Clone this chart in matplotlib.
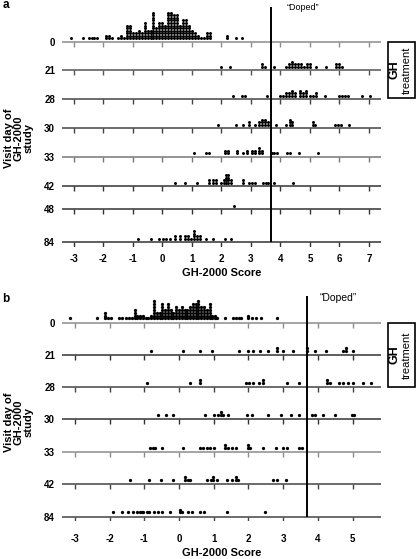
import numpy as np
import matplotlib.pyplot as plt
from matplotlib.patches import Rectangle

plt.rcParams['font.family'] = ['Liberation Sans', 'DejaVu Sans']

# ---- data (GH-2000 scores per visit day) ----
rows_a = ["0", "21", "28", "30", "33", "42", "48", "84"]
rows_b = ["0", "21", "28", "30", "33", "42", "84"]

# day 0 of study a is a dense dot histogram: bin centre + number of dots
a0_x = [-3.1, -2.7, -2.5, -2.4, -2.3, -2.2, -1.9, -1.8, -1.7, -1.5, -1.4, -1.3,
        -1.2, -1.1, -1.0, -0.9, -0.8, -0.7, -0.6, -0.5, -0.4, -0.3, -0.2, -0.1,
        0.0, 0.1, 0.2, 0.3, 0.4, 0.5, 0.6, 0.7, 0.8, 0.9, 1.0, 1.1, 1.2, 1.3,
        1.4, 1.5, 1.6, 2.2, 2.5, 2.7]
a0_n = [1, 1, 1, 1, 1, 1, 2, 2, 1, 1, 2, 1,
        6, 6, 3, 3, 4, 3, 7, 4, 4, 11, 5, 7,
        7, 6, 11, 11, 10, 10, 6, 8, 8, 6, 4, 3, 2, 1,
        1, 3, 3, 2, 1, 1]
a21 = [2.0, 2.3, 3.37, 3.37, 3.48, 3.8, 4.2, 4.3, 4.3, 4.4, 4.4, 4.4, 4.5, 4.5,
       4.6, 4.6, 4.7, 4.7, 4.8, 4.9, 4.9, 5.0, 5.0, 5.2, 5.55, 5.9, 5.9, 6.0,
       6.0, 6.1]
a28 = [2.41, 2.69, 2.8, 3.54, 4.0, 4.1, 4.2, 4.2, 4.3, 4.3, 4.4, 4.4, 4.4, 4.5,
       4.5, 4.67, 4.67, 4.67, 4.77, 4.77, 4.87, 4.87, 4.87, 5.0, 5.1, 5.2, 5.2,
       5.5, 6.0, 6.1, 6.2, 6.3, 6.76, 7.04]
a30 = [1.9, 2.5, 2.75, 2.92, 2.92, 3.14, 3.29, 3.29, 3.38, 3.38, 3.38, 3.48,
       3.48, 3.48, 3.59, 3.59, 3.85, 4.19, 4.31, 4.31, 4.31, 4.39, 4.39, 5.1,
       5.1, 5.18, 5.85, 5.95, 6.05, 6.31]
a33 = [1.08, 1.47, 1.58, 2.12, 2.12, 2.23, 2.23, 2.52, 2.52, 2.75, 2.86, 2.86,
       3.03, 3.03, 3.13, 3.13, 3.29, 3.29, 3.29, 3.37, 3.37, 3.7, 3.8, 3.9,
       4.22, 4.33, 4.64, 5.27]
a42 = [0.43, 0.77, 1.17, 1.58, 1.58, 1.72, 1.72, 1.83, 1.83, 2.0, 2.08, 2.08,
       2.15, 2.15, 2.15, 2.15, 2.23, 2.23, 2.23, 2.23, 2.32, 2.32, 2.75, 2.75,
       2.94, 3.04, 3.14, 3.4, 3.5, 3.58, 3.79, 4.42]
a48 = [2.43]
a84 = [-0.81, -0.39, -0.11, 0.01, 0.13, 0.26, 0.43, 0.43, 0.6, 0.6, 0.77, 0.77,
       0.87, 0.87, 0.98, 1.08, 1.08, 1.08, 1.08, 1.18, 1.18, 1.28, 1.28, 1.48,
       1.71, 2.12, 2.32]

# day 0 of study b
b0_x = [-3.14, -2.37, -2.13, -2.05, -1.97, -1.72, -1.64, -1.52, -1.44, -1.36,
        -1.28, -1.20, -1.12, -1.04, -0.96, -0.88, -0.80, -0.72, -0.64, -0.56,
        -0.48, -0.40, -0.32, -0.24, -0.16, -0.08, 0.0, 0.08, 0.16, 0.24, 0.32,
        0.40, 0.48, 0.56, 0.64, 0.72, 0.80, 0.88, 0.96, 1.04, 1.10, 1.33, 1.56,
        1.64, 1.72, 1.80, 1.98, 2.10, 2.22, 2.36, 2.82]
b0_n = [1, 1, 3, 1, 1, 1, 1, 1, 1, 1,
        4, 2, 2, 2, 1, 1, 2, 7, 3, 3,
        6, 4, 6, 4, 3, 5, 4, 5, 4, 4, 5,
        6, 6, 7, 5, 5, 4, 6, 2, 2, 1, 1, 1,
        1, 1, 1, 2, 1, 1, 1, 1]
b21 = [-0.82, 0.12, 0.6, 0.94, 1.74, 2.0, 2.12, 2.33, 2.57, 2.83, 2.83, 2.99,
       3.29, 3.68, 3.68, 3.92, 4.24, 4.73, 4.8, 4.8, 5.02]
b28 = [-0.93, 0.32, 0.6, 0.6, 1.93, 2.02, 2.12, 2.31, 2.43, 2.43, 3.12, 3.47,
       4.27, 4.27, 4.35, 4.62, 4.73, 4.88, 5.0, 5.31, 5.52]
b30 = [-0.61, -0.38, -0.16, 0.75, 1.01, 1.13, 1.2, 1.2, 1.28, 1.42, 1.95, 2.09,
       2.57, 2.94, 3.23, 3.47, 3.82, 3.92, 4.14, 4.5, 4.98, 5.03]
b33 = [-0.84, -0.76, -0.68, -0.5, 0.12, 0.61, 0.7, 0.8, 0.9, 1.0, 1.33, 1.33,
       1.42, 1.52, 1.64, 2.0, 2.0, 2.05, 2.43, 2.8, 3.0, 3.12, 3.47, 3.54]
b42 = [-1.41, -0.86, -0.52, -0.16, 0.17, 0.17, 0.25, 0.32, 0.8, 0.91, 0.97,
       0.97, 1.09, 1.37, 1.52, 1.65, 1.65, 1.71, 2.7, 2.83, 3.08]
b84 = [-1.91, -1.65, -1.46, -1.32, -1.22, -1.12, -1.07, -1.03, -0.93, -0.86,
       -0.72, -0.61, -0.48, -0.26, 0.03, 0.03, 0.08, 0.27, 0.37, 0.61, 0.72,
       1.37, 2.48]

doped_cut = 3.68

# ---- layout (figure pixels) ----
W, H = 416, 559
fig = plt.figure(figsize=(W / 100, H / 100), dpi=100)


def px_axes(left, top, right, bottom):
    return fig.add_axes([left / W, 1 - bottom / H, (right - left) / W, (bottom - top) / H])


def stack(vals, base, step):
    xs, ys, seen = [], [], {}
    for v in vals:
        k = seen.get(v, 0)
        seen[v] = k + 1
        xs.append(v)
        ys.append(base - k * step)
    return xs, ys


def panel(ax, data, row_y, line_cols, xlim, ticks, top, bottom, dot_s, dot_off, dot_step):
    ax.set_xlim(*xlim)
    ax.set_ylim(bottom, top)
    for vals, y, lc in zip(data, row_y, line_cols):
        ax.axhline(y, color=lc, lw=1.1, zorder=1)
        ax.vlines(ticks, y, y + 5, color=lc, lw=1.0, zorder=1)
        xs, ys = stack(vals, y - dot_off, dot_step)
        ax.scatter(xs, ys, s=dot_s, c='k', linewidths=0, zorder=3)
    for s in ax.spines.values():
        s.set_visible(False)
    ax.set_yticks(row_y)
    ax.set_xticks(ticks)
    ax.tick_params(length=0)


# panel a
ya = [41.7, 70.3, 99.3, 128, 156.7, 186, 209, 242]
ax_a = px_axes(62, 0, 381, 247)
data_a = [np.repeat(a0_x, a0_n), a21, a28, a30, a33, a42, a48, a84]
cols_a = ['#8c8c8c', '#555', '#444', '#444', '#777', '#333', '#333', '#333']
panel(ax_a, data_a, ya, cols_a, (-3.40, 7.41), list(range(-3, 8)), 0, 247, 4.6, 3.4, 2.55)
ax_a.vlines(doped_cut, 6.7, ya[-1], color='k', lw=1.4, zorder=4)
ax_a.text(4.77, 8, '\u201cDoped\u201d', ha='center', va='center', fontsize=6.5)
ax_a.set_yticklabels(rows_a, fontsize=7, fontweight='bold')
ax_a.set_xticklabels([str(t) for t in range(-3, 8)], fontsize=7, fontweight='bold')
ax_a.tick_params(axis='y', pad=5)
ax_a.tick_params(axis='x', pad=5.0)
ax_a.set_xlabel('GH-2000 Score', fontsize=8, fontweight='bold', labelpad=3.0)

# panel b
yb = [322.7, 355, 387.3, 419.3, 452, 484, 516.7]
ax_b = px_axes(62, 285, 381, 521)
data_b = [np.repeat(b0_x, b0_n), b21, b28, b30, b33, b42, b84]
cols_b = ['#8c8c8c', '#333', '#444', '#333', '#8c8c8c', '#444', '#444']
panel(ax_b, data_b, yb, cols_b, (-3.372, 5.821), list(range(-3, 6)), 285, 521, 5.6, 4.3, 2.9)
ax_b.vlines(doped_cut, 296, yb[-1], color='k', lw=1.4, zorder=4)
ax_b.text(4.6, 298, '\u201cDoped\u201d', ha='center', va='center', fontsize=7.5)
ax_b.set_yticklabels(rows_b, fontsize=7, fontweight='bold')
ax_b.set_xticklabels([str(t) for t in range(-3, 6)], fontsize=7, fontweight='bold')
ax_b.tick_params(axis='y', pad=5)
ax_b.tick_params(axis='x', pad=9.0)
ax_b.set_xlabel('GH-2000 Score', fontsize=8, fontweight='bold', labelpad=3.0)

# shared decorations
for cy, lab in [(5, 'a'), (299, 'b')]:
    fig.text(5.5 / W, 1 - cy / H, lab, fontsize=8.5, fontweight='bold', ha='center', va='center')

for cy in [138, 422]:
    fig.text(19 / W, 1 - cy / H, 'Visit day of\nGH-2000\nstudy', rotation=90,
             ha='center', va='center', multialignment='center', fontsize=8,
             fontweight='bold', linespacing=1.0)

for top, bot in [(42, 98), (323, 387)]:
    fig.patches.append(Rectangle((388 / W, 1 - bot / H), 27 / W, (bot - top) / H,
                                 transform=fig.transFigure, fill=False, ec='k', lw=1.2))
    mid = 1 - (top + bot) / 2 / H
    fig.text(395 / W, mid, 'GH', rotation=90, ha='center', va='center',
             fontsize=9, fontweight='bold')
    fig.text(406.5 / W, mid, 'treatment', rotation=90, ha='center', va='center', fontsize=8)

fig.savefig('out.png', dpi=100)
